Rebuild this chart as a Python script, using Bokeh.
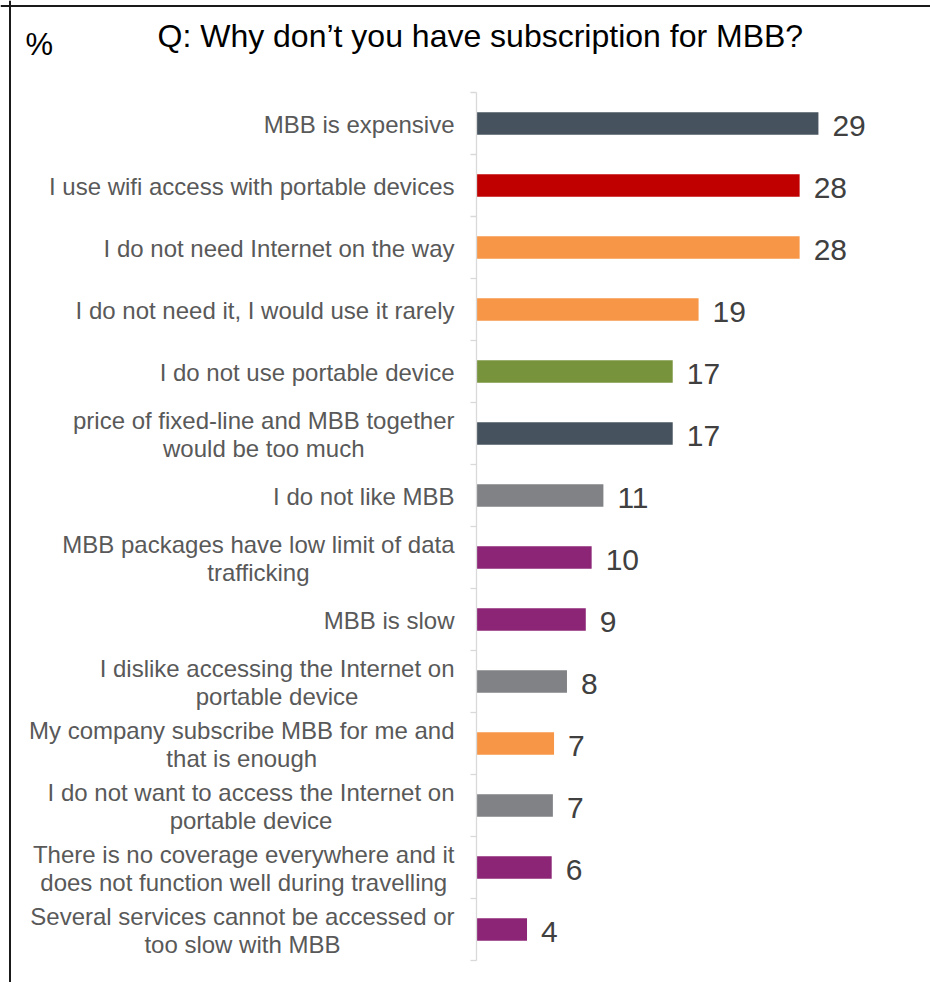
from bokeh.plotting import figure
from bokeh.models import Range1d, ColumnDataSource, Span
from bokeh.core.properties import value
from bokeh.embed import file_html
from bokeh.resources import INLINE

# ---------------- data ----------------
categories = [
    "MBB is expensive",
    "I use wifi access with portable devices",
    "I do not need Internet on the way",
    "I do not need it, I would use it rarely",
    "I do not use portable device",
    "price of fixed-line and MBB together\nwould be too much",
    "I do not like MBB",
    "MBB packages have low limit of data\ntrafficking",
    "MBB is slow",
    "I dislike accessing the Internet on\nportable device",
    "My company subscribe MBB for me and\nthat is enough",
    "I do not want to access the Internet on\nportable device",
    "There is no coverage everywhere and it\ndoes not function well during travelling",
    "Several services cannot be accessed or\ntoo slow with MBB",
]
values = [29.1, 27.5, 27.5, 18.9, 16.7, 16.7, 10.8, 9.8, 9.3, 7.7, 6.6, 6.5, 6.4, 4.3]
value_labels = ["29", "28", "28", "19", "17", "17", "11", "10", "9", "8", "7", "7", "6", "4"]
title_text = "Q: Why don\u2019t you have subscription for MBB?"
unit_text = "%"

# ---------------- styles ----------------
DARK = "#46535E"
RED = "#C00000"
ORANGE = "#F79646"
GREEN = "#77933C"
GRAY = "#808285"
PURPLE = "#8C2576"
bar_colors = [DARK, RED, ORANGE, ORANGE, GREEN, DARK, GRAY, PURPLE, PURPLE,
              GRAY, ORANGE, GRAY, PURPLE, PURPLE]

W, H = 930, 982
X0_PX = 476.0      # pixel of value 0
SX = 11.75         # pixels per unit
TOP_PX = 92.0      # pixel of top category boundary
SY = 62.0          # pixels per category
BASE_FIX = 0.3     # baseline correction (em) for svg text placement


def px_x(px):
    return (px - X0_PX) / SX


def px_y(px):
    return -0.5 + (px - TOP_PX) / SY


# Arial / Liberation Sans advance widths (1/1000 em)
AW = {' ': 278, ',': 278, '-': 333, '.': 278, "'": 191, '\u2019': 222, '?': 556,
      'a': 556, 'b': 556, 'c': 500, 'd': 556, 'e': 556, 'f': 278, 'g': 556, 'h': 556,
      'i': 222, 'j': 222, 'k': 500, 'l': 222, 'm': 833, 'n': 556, 'o': 556, 'p': 556,
      'q': 556, 'r': 333, 's': 500, 't': 278, 'u': 556, 'v': 500, 'w': 722, 'x': 500,
      'y': 500, 'z': 500, 'A': 667, 'B': 667, 'C': 722, 'D': 722, 'E': 667, 'F': 611,
      'G': 778, 'H': 722, 'I': 278, 'J': 500, 'K': 667, 'L': 556, 'M': 833, 'N': 722,
      'O': 778, 'P': 667, 'Q': 778, 'R': 722, 'S': 667, 'T': 611, 'U': 722, 'V': 667,
      'W': 944, 'X': 667, 'Y': 667, 'Z': 611}


def text_width(s, size):
    return sum(AW.get(c, 556) for c in s) / 1000.0 * size


FONT = value("Liberation Sans")
CAT_SIZE = 24
VAL_SIZE = 30
LABEL_RIGHT_PX = 454.0
LINE_H = 28.0

p = figure(width=W, height=H, output_backend="svg", toolbar_location=None,
           x_range=Range1d(px_x(0), px_x(W)),
           y_range=Range1d(px_y(H), px_y(0)),
           x_axis_location=None, y_axis_location=None, min_border=0)
p.grid.visible = False
p.outline_line_color = None
p.background_fill_color = "white"
p.border_fill_color = "white"

n = len(categories)
ys = list(range(n))

# bars
val_base = 11.0 - BASE_FIX * VAL_SIZE
src = ColumnDataSource(dict(y=ys, v=values, c=bar_colors,
                            lx=[v + 14.0 / SX for v in values],
                            ly=[y + val_base / SY for y in ys],
                            lab=value_labels))
p.hbar(y="y", right="v", left=0, height=22.7 / SY, fill_color="c",
       line_color=None, source=src)
p.text(x="lx", y="ly", text="lab", source=src, text_font=FONT,
       text_font_size=f"{VAL_SIZE}px", text_color="#404040",
       text_align="left", text_baseline="alphabetic")

# vertical axis line with boundary ticks
p.segment(x0=[0], y0=[-0.5], x1=[0], y1=[n - 0.5], line_color="#D9D9D9", line_width=1.3)
bounds = [b - 0.5 for b in range(n + 1)]
p.segment(x0=[px_x(X0_PX - 6)] * len(bounds), y0=bounds,
          x1=[0] * len(bounds), y1=bounds, line_color="#D9D9D9", line_width=1.3)

# category labels
lx, ly, lt, la = [], [], [], []
cat_base = 8.0 - BASE_FIX * CAT_SIZE
for i, cat in enumerate(categories):
    lines = cat.split("\n")
    widths = [text_width(s, CAT_SIZE) for s in lines]
    maxw = max(widths)
    k_mid = (len(lines) - 1) / 2.0
    for k, s in enumerate(lines):
        base_px = cat_base + (k - k_mid) * LINE_H
        if widths[k] == maxw:
            lx.append(px_x(LABEL_RIGHT_PX))
            la.append("right")
        else:
            lx.append(px_x(LABEL_RIGHT_PX - maxw / 2.0))
            la.append("center")
        ly.append(i + base_px / SY)
        lt.append(s)
p.text(x="lx", y="ly", text="t", text_align="a",
       source=ColumnDataSource(dict(lx=lx, ly=ly, t=lt, a=la)),
       text_font=FONT, text_font_size=f"{CAT_SIZE}px", text_color="#595959",
       text_baseline="alphabetic")

# title and unit
p.text(x=[px_x(157)], y=[px_y(45 - BASE_FIX * 32)], text=[title_text], text_font=FONT,
       text_font_size="32px", text_color="#000000", text_align="left",
       text_baseline="alphabetic")
p.text(x=[px_x(25)], y=[px_y(53 - BASE_FIX * 31)], text=[unit_text], text_font=FONT,
       text_font_size="31px", text_color="#000000", text_align="left",
       text_baseline="alphabetic")

# frame border (left and top visible)
p.add_layout(Span(location=px_x(9.5), dimension="height", line_color="#1A1A1A", line_width=2))
p.add_layout(Span(location=px_y(5.5), dimension="width", line_color="#1A1A1A", line_width=2))

open("out.html", "w").write(file_html(p, INLINE))
